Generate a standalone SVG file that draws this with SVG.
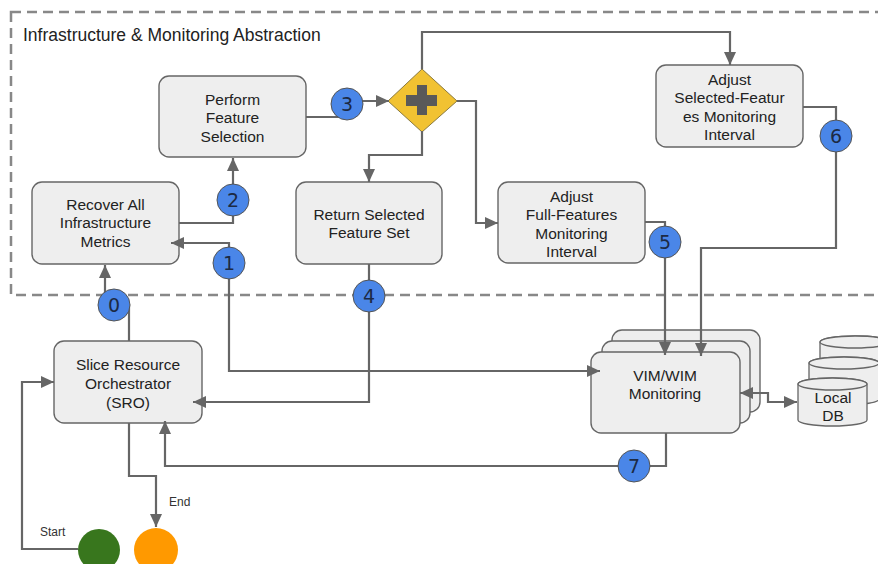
<svg xmlns="http://www.w3.org/2000/svg" width="878" height="564" viewBox="0 0 878 564">
<style>
.box{fill:#eeeeee;stroke:#666666;stroke-width:1.4}
.lbl{font-family:"Liberation Sans",Arial,sans-serif;font-size:15.5px;fill:#222222;text-anchor:middle}
.small{font-family:"Liberation Sans",Arial,sans-serif;font-size:12px;fill:#333333}
.con{fill:none;stroke:#666666;stroke-width:2.2}
.num circle{fill:#4a86e8;stroke:#555555;stroke-width:1}
.num text{font-family:"DejaVu Sans",sans-serif;font-size:19px;fill:#1c2a44;text-anchor:middle}
.cyl{fill:#eeeeee;stroke:#666666;stroke-width:1.3}
</style>
<defs>
<marker id="ah" markerUnits="userSpaceOnUse" markerWidth="13" markerHeight="12" refX="13" refY="6" orient="auto-start-reverse" viewBox="0 0 13 12">
<path d="M0,0 L13,6 L0,12 z" fill="#666666"/>
</marker>
</defs>
<rect width="878" height="564" fill="#ffffff"/>
<g id="abstraction">
<rect x="11" y="12" width="890" height="283" fill="none" stroke="#888888" stroke-width="2.5" stroke-dasharray="10 6"/>
<text x="23" y="41" font-family="'Liberation Sans',Arial,sans-serif" font-size="17.5px" fill="#222222">Infrastructure &amp; Monitoring Abstraction</text>
</g>
<g id="perform">
<rect class="box" x="159" y="76" width="147" height="81" rx="10"/>
<text class="lbl" x="232.5" y="104.5">Perform</text>
<text class="lbl" x="232.5" y="123">Feature</text>
<text class="lbl" x="232.5" y="141.5">Selection</text>
</g>
<g id="recover">
<rect class="box" x="32" y="182" width="147" height="82" rx="10"/>
<text class="lbl" x="105.5" y="209.5">Recover All</text>
<text class="lbl" x="105.5" y="228">Infrastructure</text>
<text class="lbl" x="105.5" y="246.5">Metrics</text>
</g>
<g id="return">
<rect class="box" x="296" y="182" width="146" height="82" rx="10"/>
<text class="lbl" x="369" y="219.5">Return Selected</text>
<text class="lbl" x="369" y="238">Feature Set</text>
</g>
<g id="adjust-full">
<rect class="box" x="498" y="182" width="147" height="81" rx="10"/>
<text class="lbl" x="571.5" y="201.5">Adjust</text>
<text class="lbl" x="571.5" y="220">Full-Features</text>
<text class="lbl" x="571.5" y="238.5">Monitoring</text>
<text class="lbl" x="571.5" y="257">Interval</text>
</g>
<g id="adjust-selected">
<rect class="box" x="656" y="65" width="147" height="82" rx="10"/>
<text class="lbl" x="729.5" y="84.5">Adjust</text>
<text class="lbl" x="729.5" y="103">Selected-Featur</text>
<text class="lbl" x="729.5" y="121.5">es Monitoring</text>
<text class="lbl" x="729.5" y="140">Interval</text>
</g>
<g id="gateway">
<polygon points="422,69 457,101 422,132 388,101" fill="#f1c232" stroke="#8a7a40" stroke-width="1"/>
<rect x="406" y="95" width="31" height="11" fill="#595959"/>
<rect x="417" y="85" width="10" height="30" fill="#595959"/>
</g>
<g id="sro">
<rect class="box" x="54" y="341" width="148" height="82" rx="10"/>
<text class="lbl" x="128" y="369.5">Slice Resource</text>
<text class="lbl" x="128" y="388.5">Orchestrator</text>
<text class="lbl" x="128" y="407.5">(SRO)</text>
</g>
<g id="vim">
<rect class="box" x="612" y="330" width="148" height="82" rx="10"/>
<rect class="box" x="602" y="341" width="148" height="82" rx="10"/>
<rect class="box" x="591" y="352" width="149" height="81" rx="10"/>
<text class="lbl" x="665" y="380.5">VIM/WIM</text>
<text class="lbl" x="665" y="399">Monitoring</text>
</g>
<g id="localdb">
<path class="cyl" d="M820,342 V378 A35,6 0 0 0 890,378 V342 A35,6 0 0 0 820,342 Z"/>
<ellipse class="cyl" cx="855" cy="342" rx="35" ry="6"/>
<path class="cyl" d="M809,363 V399 A35,6 0 0 0 879,399 V363 A35,6 0 0 0 809,363 Z"/>
<ellipse class="cyl" cx="844" cy="363" rx="35" ry="6"/>
<path class="cyl" d="M798,384 V420 A34.5,6 0 0 0 867,420 V384 A34.5,6 0 0 0 798,384 Z"/>
<ellipse class="cyl" cx="832.5" cy="384" rx="34.5" ry="6"/>
<text class="lbl" x="833" y="402.5">Local</text>
<text class="lbl" x="833" y="421">DB</text>
</g>
<g id="start">
<circle cx="99" cy="550" r="21" fill="#38761d"/>
<text class="small" x="40" y="536">Start</text>
</g>
<g id="end">
<circle cx="156" cy="550" r="22" fill="#ff9900"/>
<text class="small" x="169" y="506">End</text>
</g>
<g id="connectors">
<path class="con" d="M129,341 V305 H105 V265" marker-end="url(#ah)"/>
<path class="con" d="M600,371 H229 V243 H171" marker-start="url(#ah)" marker-end="url(#ah)"/>
<path class="con" d="M179,223 H233 V158" marker-end="url(#ah)"/>
<path class="con" d="M306,117 H347 V101 H389" marker-end="url(#ah)"/>
<path class="con" d="M369,264 V402 H193" marker-end="url(#ah)"/>
<path class="con" d="M422,131 V155 H369 V182" marker-end="url(#ah)"/>
<path class="con" d="M422,69 V32 H730 V65" marker-end="url(#ah)"/>
<path class="con" d="M457,101 H476 V223 H498" marker-end="url(#ah)"/>
<path class="con" d="M645,222 H665 V355" marker-end="url(#ah)"/>
<path class="con" d="M803,107 H836 V248 H701 V356" marker-end="url(#ah)"/>
<path class="con" d="M666,433 V466 H165 V421" marker-end="url(#ah)"/>
<path class="con" d="M129,423 V476 H156 V527" marker-end="url(#ah)"/>
<path class="con" d="M78,549 H22 V382 H54" marker-end="url(#ah)"/>
<path class="con" d="M740,393 H768 V402 H797" marker-start="url(#ah)" marker-end="url(#ah)"/>
</g>
<g id="n0" class="num"><circle cx="114" cy="305" r="16"/><text x="114" y="312">0</text></g>
<g id="n1" class="num"><circle cx="229" cy="263" r="16"/><text x="229" y="270">1</text></g>
<g id="n2" class="num"><circle cx="233" cy="200" r="16"/><text x="233" y="207">2</text></g>
<g id="n3" class="num"><circle cx="347" cy="104" r="16"/><text x="347" y="111">3</text></g>
<g id="n4" class="num"><circle cx="369" cy="296" r="16"/><text x="369" y="303">4</text></g>
<g id="n5" class="num"><circle cx="665" cy="242" r="16"/><text x="665" y="249">5</text></g>
<g id="n6" class="num"><circle cx="836" cy="136" r="16"/><text x="836" y="143">6</text></g>
<g id="n7" class="num"><circle cx="634" cy="466" r="16"/><text x="634" y="473">7</text></g>
</svg>
